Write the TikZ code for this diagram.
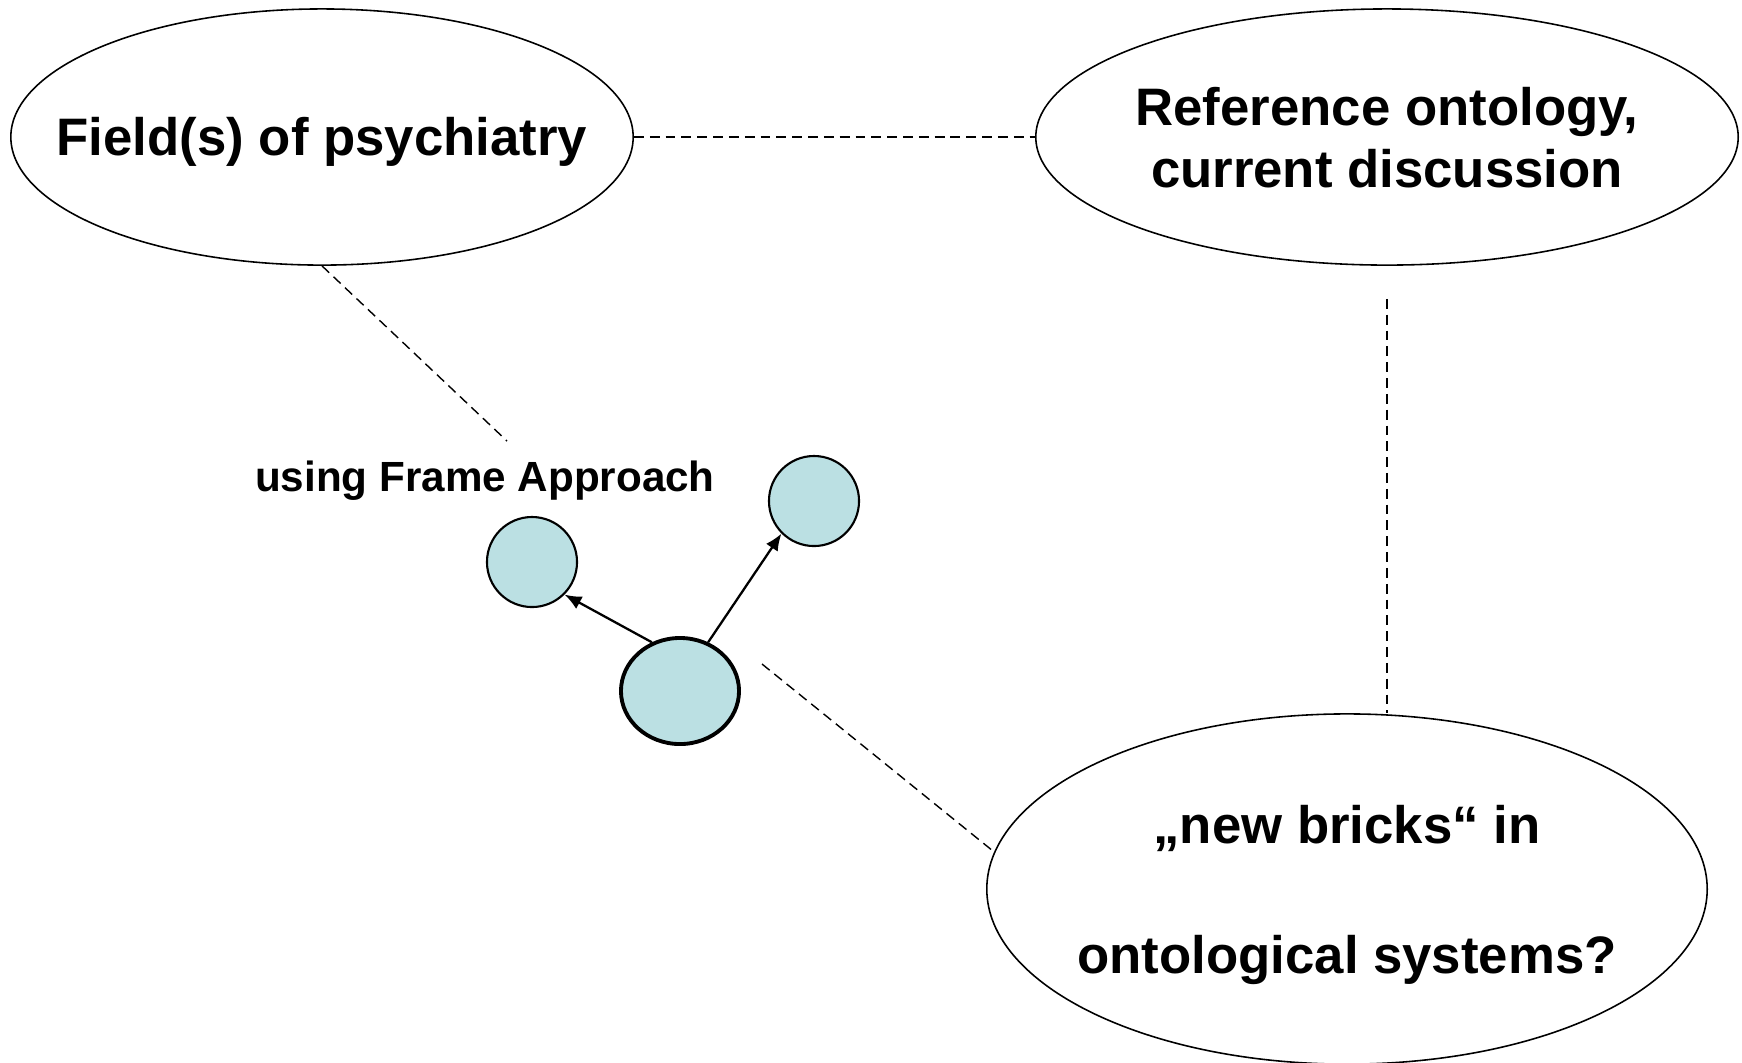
\documentclass[tikz,border=0pt]{standalone}
\usepackage{fontspec}
\setmainfont{Liberation Sans}
\usetikzlibrary{shapes.geometric,arrows.meta}
\definecolor{frameblue}{RGB}{187,224,227}
\tikzset{
  field/.style={draw,ellipse,line width=0.45pt,inner sep=0pt},
  fieldtext/.style={align=center,font=\fontsize{15}{17.6}\selectfont\bfseries},
  frame/.style={draw,ellipse,fill=frameblue,line width=0.6pt,inner sep=0pt},
  link/.style={line width=0.4pt,dash pattern=on 2.8pt off 1.7pt},
  rel/.style={line width=0.65pt,-{Latex[length=4.8pt,width=4pt]}}
}
\begin{document}
\begin{tikzpicture}[x=0.01cm,y=-0.01cm]
         \useasboundingbox (0,0) rectangle (1742,1062);
         % the three fields
         \node[field,minimum width=6.22cm,minimum height=2.56cm] (psy) at (322,137) {};
         \node[fieldtext] (psytext) at (322,142) {Field(s) of psychiatry};
         \node[field,minimum width=7.02cm,minimum height=2.56cm] (ref) at (1387,137) {};
         \node[fieldtext] (reftext) at (1387,138) {Reference ontology,\\current discussion};
         \node[field,minimum width=7.20cm,minimum height=3.50cm] (bricks) at (1347,889) {};
         \node[fieldtext] (brickstext) at (1347,895) {„new bricks“ in\\[19.5pt]ontological systems?};
         % frames
         \node[font=\fontsize{12}{14}\selectfont\bfseries] (using) at (485,481) {using Frame Approach};
         \node[frame,minimum width=0.90cm,minimum height=0.90cm] (slotA) at (532,562) {};
         \node[frame,minimum width=0.90cm,minimum height=0.90cm] (slotB) at (814,501) {};
         \node[frame,line width=1.1pt,minimum width=1.18cm,minimum height=1.06cm] (core) at (680,691) {};
         \coordinate (usingtop) at (507,441);
         \coordinate (coredash) at (762,664);
         % dashed links
         \draw[link] (psy.east) -- (ref.west);
         \draw[link] (psy.south) -- (usingtop);
         \draw[link,shorten <=0.33cm] (ref.south) -- (ref.south |- bricks.north);
         \draw[link] (coredash) -- (bricks.174);
         % relations
         \draw[rel] (core.120) -- (slotA.-45);
         \draw[rel] (core.60) -- (slotB.225);
      \end{tikzpicture}
\end{document}
